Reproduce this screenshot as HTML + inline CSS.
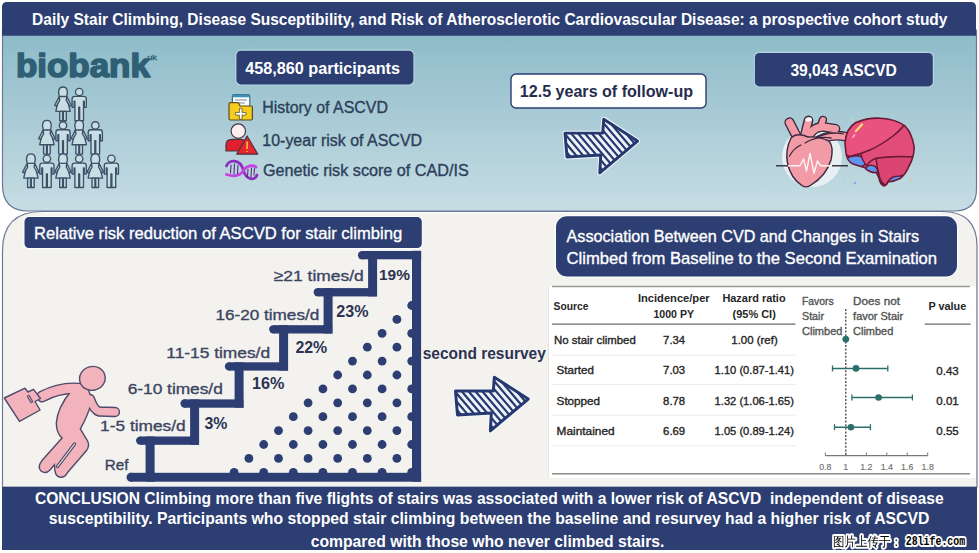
<!DOCTYPE html>
<html><head><meta charset="utf-8"><title>Daily Stair Climbing and ASCVD</title>
<style>
html,body{margin:0;padding:0;background:#fff;}
svg{display:block;font-family:'Liberation Sans', Arial, sans-serif;}
</style></head>
<body>
<svg width="979" height="553" viewBox="0 0 979 553">
<defs><linearGradient id="gTop" x1="0" y1="0" x2="0" y2="1"><stop offset="0" stop-color="#8cbac8"/><stop offset="1" stop-color="#c7dde4"/></linearGradient><clipPath id="arrowClip"><path d="M0,14 L38,14 L39,0 L73,22 L35,54 L36,36 L2,38 Z"/></clipPath></defs>
<rect x="0" y="0" width="979" height="553" fill="#ffffff"/>
<path d="M2.5,30 L976.5,30 L976.5,189 Q976.5,211 954.5,211 L28.5,211 Q2.5,211 2.5,185 Z" fill="url(#gTop)" stroke="#6c7898" stroke-width="1.2"/>
<path d="M2,7 Q2,2 7,2 L971,2 Q976,2 976,7 L976,35.7 L2,35.7 Z" fill="#2c3e72"/>
<path d="M2.5,487 L2.5,251 Q2.5,211.5 42,211.5 L942,211.5 Q977,211.5 977,246 L977,487 Z" fill="#f4f2ef" stroke="#6c7898" stroke-width="1.2"/>
<path d="M42,213 L942,213" stroke="#fbfcfd" stroke-width="1.6"/>
<rect x="2" y="487" width="975" height="63" fill="#2c3e72"/>
<text x="32.1" y="24.9" font-size="15.8" font-weight="bold" fill="#ffffff" textLength="915.4" lengthAdjust="spacingAndGlyphs">Daily Stair Climbing, Disease Susceptibility, and Risk of Atherosclerotic Cardiovascular Disease: a prospective cohort study</text>
<text x="15.9" y="77.2" font-size="33" font-weight="bold" fill="#2f5f74" textLength="134.0" lengthAdjust="spacingAndGlyphs" stroke="#2f5f74" stroke-width="1.6" stroke-linejoin="round">biobank</text>
<text x="147.2" y="60.0" font-size="8" fill="#2f5f74" textLength="9.7" lengthAdjust="spacingAndGlyphs" stroke="#2f5f74" stroke-width="0.35">uk</text>
<g fill="#c9dde5" stroke="#3b5166" stroke-width="1.35" stroke-linejoin="round">
<g transform="translate(63.0,86.7)"><path d="M-3.6,9.6 L3.6,9.6 L7.2,24.6 L-7.2,24.6 Z"/><path d="M-3.9,10.2 L-8.3,18.6 L-6.6,19.4 L-3.2,13.5 Z M3.9,10.2 L8.3,18.6 L6.6,19.4 L3.2,13.5 Z"/><path d="M-3.6,9.8 C-5.2,5 -4.6,0.3 0,0.3 C4.6,0.3 5.2,5 3.6,9.8 Z"/><path d="M-3.3,24.6 L-3.3,34 L-0.4,34 L-0.4,24.6 Z M0.4,24.6 L0.4,34 L3.3,34 L3.3,24.6 Z"/></g>
<g transform="translate(79.2,86.7)"><path d="M-4.6,9.6 L4.6,9.6 Q7.1,9.6 7.1,12.3 L7.1,20.6 L5.1,20.6 L5.1,14.5 L4.3,14.5 L4.3,34 L0.45,34 L0.45,20.5 L-0.45,20.5 L-0.45,34 L-4.3,34 L-4.3,14.5 L-5.1,14.5 L-5.1,20.6 L-7.1,20.6 L-7.1,12.3 Q-7.1,9.6 -4.6,9.6 Z"/><circle cx="0" cy="5.3" r="3.7"/></g>
<g transform="translate(46.9,120.1)"><path d="M-3.6,9.6 L3.6,9.6 L7.2,24.6 L-7.2,24.6 Z"/><path d="M-3.9,10.2 L-8.3,18.6 L-6.6,19.4 L-3.2,13.5 Z M3.9,10.2 L8.3,18.6 L6.6,19.4 L3.2,13.5 Z"/><path d="M-3.6,9.8 C-5.2,5 -4.6,0.3 0,0.3 C4.6,0.3 5.2,5 3.6,9.8 Z"/><path d="M-3.3,24.6 L-3.3,34 L-0.4,34 L-0.4,24.6 Z M0.4,24.6 L0.4,34 L3.3,34 L3.3,24.6 Z"/></g>
<g transform="translate(63.0,120.1)"><path d="M-4.6,9.6 L4.6,9.6 Q7.1,9.6 7.1,12.3 L7.1,20.6 L5.1,20.6 L5.1,14.5 L4.3,14.5 L4.3,34 L0.45,34 L0.45,20.5 L-0.45,20.5 L-0.45,34 L-4.3,34 L-4.3,14.5 L-5.1,14.5 L-5.1,20.6 L-7.1,20.6 L-7.1,12.3 Q-7.1,9.6 -4.6,9.6 Z"/><circle cx="0" cy="5.3" r="3.7"/></g>
<g transform="translate(79.2,120.1)"><path d="M-3.6,9.6 L3.6,9.6 L7.2,24.6 L-7.2,24.6 Z"/><path d="M-3.9,10.2 L-8.3,18.6 L-6.6,19.4 L-3.2,13.5 Z M3.9,10.2 L8.3,18.6 L6.6,19.4 L3.2,13.5 Z"/><path d="M-3.6,9.8 C-5.2,5 -4.6,0.3 0,0.3 C4.6,0.3 5.2,5 3.6,9.8 Z"/><path d="M-3.3,24.6 L-3.3,34 L-0.4,34 L-0.4,24.6 Z M0.4,24.6 L0.4,34 L3.3,34 L3.3,24.6 Z"/></g>
<g transform="translate(95.3,120.1)"><path d="M-4.6,9.6 L4.6,9.6 Q7.1,9.6 7.1,12.3 L7.1,20.6 L5.1,20.6 L5.1,14.5 L4.3,14.5 L4.3,34 L0.45,34 L0.45,20.5 L-0.45,20.5 L-0.45,34 L-4.3,34 L-4.3,14.5 L-5.1,14.5 L-5.1,20.6 L-7.1,20.6 L-7.1,12.3 Q-7.1,9.6 -4.6,9.6 Z"/><circle cx="0" cy="5.3" r="3.7"/></g>
<g transform="translate(30.9,153.5)"><path d="M-3.6,9.6 L3.6,9.6 L7.2,24.6 L-7.2,24.6 Z"/><path d="M-3.9,10.2 L-8.3,18.6 L-6.6,19.4 L-3.2,13.5 Z M3.9,10.2 L8.3,18.6 L6.6,19.4 L3.2,13.5 Z"/><path d="M-3.6,9.8 C-5.2,5 -4.6,0.3 0,0.3 C4.6,0.3 5.2,5 3.6,9.8 Z"/><path d="M-3.3,24.6 L-3.3,34 L-0.4,34 L-0.4,24.6 Z M0.4,24.6 L0.4,34 L3.3,34 L3.3,24.6 Z"/></g>
<g transform="translate(46.9,153.5)"><path d="M-4.6,9.6 L4.6,9.6 Q7.1,9.6 7.1,12.3 L7.1,20.6 L5.1,20.6 L5.1,14.5 L4.3,14.5 L4.3,34 L0.45,34 L0.45,20.5 L-0.45,20.5 L-0.45,34 L-4.3,34 L-4.3,14.5 L-5.1,14.5 L-5.1,20.6 L-7.1,20.6 L-7.1,12.3 Q-7.1,9.6 -4.6,9.6 Z"/><circle cx="0" cy="5.3" r="3.7"/></g>
<g transform="translate(63.0,153.5)"><path d="M-3.6,9.6 L3.6,9.6 L7.2,24.6 L-7.2,24.6 Z"/><path d="M-3.9,10.2 L-8.3,18.6 L-6.6,19.4 L-3.2,13.5 Z M3.9,10.2 L8.3,18.6 L6.6,19.4 L3.2,13.5 Z"/><path d="M-3.6,9.8 C-5.2,5 -4.6,0.3 0,0.3 C4.6,0.3 5.2,5 3.6,9.8 Z"/><path d="M-3.3,24.6 L-3.3,34 L-0.4,34 L-0.4,24.6 Z M0.4,24.6 L0.4,34 L3.3,34 L3.3,24.6 Z"/></g>
<g transform="translate(79.2,153.5)"><path d="M-4.6,9.6 L4.6,9.6 Q7.1,9.6 7.1,12.3 L7.1,20.6 L5.1,20.6 L5.1,14.5 L4.3,14.5 L4.3,34 L0.45,34 L0.45,20.5 L-0.45,20.5 L-0.45,34 L-4.3,34 L-4.3,14.5 L-5.1,14.5 L-5.1,20.6 L-7.1,20.6 L-7.1,12.3 Q-7.1,9.6 -4.6,9.6 Z"/><circle cx="0" cy="5.3" r="3.7"/></g>
<g transform="translate(95.3,153.5)"><path d="M-3.6,9.6 L3.6,9.6 L7.2,24.6 L-7.2,24.6 Z"/><path d="M-3.9,10.2 L-8.3,18.6 L-6.6,19.4 L-3.2,13.5 Z M3.9,10.2 L8.3,18.6 L6.6,19.4 L3.2,13.5 Z"/><path d="M-3.6,9.8 C-5.2,5 -4.6,0.3 0,0.3 C4.6,0.3 5.2,5 3.6,9.8 Z"/><path d="M-3.3,24.6 L-3.3,34 L-0.4,34 L-0.4,24.6 Z M0.4,24.6 L0.4,34 L3.3,34 L3.3,24.6 Z"/></g>
<g transform="translate(111.4,153.5)"><path d="M-4.6,9.6 L4.6,9.6 Q7.1,9.6 7.1,12.3 L7.1,20.6 L5.1,20.6 L5.1,14.5 L4.3,14.5 L4.3,34 L0.45,34 L0.45,20.5 L-0.45,20.5 L-0.45,34 L-4.3,34 L-4.3,14.5 L-5.1,14.5 L-5.1,20.6 L-7.1,20.6 L-7.1,12.3 Q-7.1,9.6 -4.6,9.6 Z"/><circle cx="0" cy="5.3" r="3.7"/></g>
</g>
<rect x="236.4" y="50.8" width="177" height="33.6" rx="4.5" fill="#2c3e72" stroke="#b9d6e0" stroke-width="2.4" paint-order="stroke"/>
<text x="245.3" y="74.1" font-size="16" font-weight="bold" fill="#ffffff" textLength="154.7" lengthAdjust="spacingAndGlyphs">458,860 participants</text>
<g stroke-linejoin="round"><rect x="232.4" y="94.7" width="17.4" height="12" rx="1.5" fill="#ffffff" stroke="#3d6f8a" stroke-width="1.2"/><rect x="232.4" y="94.7" width="17.4" height="2.6" fill="#3d8fb5"/><path d="M235,100 L247,100 M235,103 L245,103" stroke="#7a8a99" stroke-width="1"/><path d="M229,104 Q229,102.7 230.5,102.7 L237,102.7 Q239,102.7 239.5,104.5 L240,106 L251,106 Q252.4,106 252.4,107.5 L252.4,118.5 Q252.4,120 251,120 L230.5,120 Q229,120 229,118.5 Z" fill="#f5cd1f" stroke="#5b4a1e" stroke-width="1.2"/><path d="M240.7,109.5 L240.7,117.9 M236.5,113.7 L244.9,113.7" stroke="#5b4a1e" stroke-width="3.6" stroke-linecap="round"/><path d="M240.7,109.5 L240.7,117.9 M236.5,113.7 L244.9,113.7" stroke="#ffffff" stroke-width="2" stroke-linecap="round"/></g>
<g stroke="#4a3440" stroke-width="1.2" stroke-linejoin="round"><path d="M226,151 L226,145 Q226,139.3 232,139.3 L241,139.3 Q246,139.3 246,145 L246,151 Z" fill="#e0202e"/><circle cx="238.3" cy="131.1" r="7.2" fill="#fbeef0"/><path d="M247.1,136 L257.8,154.2 L236.7,154.2 Z" fill="#e52630"/><path d="M247.1,141.5 L247.1,149 M247.1,151 L247.1,152" stroke="#f5b030" stroke-width="1.8"/></g>
<g fill="none" stroke-linecap="round"><path d="M226.5,166 C228,160 240,157.5 243.5,170.5 C246,180 255,181 257,175" stroke="#8b2fc0" stroke-width="2.8"/><path d="M226.5,174.5 C234,177 240,176 243.5,170.5 C247,165 253,165 256,167" stroke="#c246de" stroke-width="2.8"/><path d="M231,165 L230.5,173 M234.5,164 L234,174 M238,165 L237.5,173.5 M248,169 L247.5,177 M251.5,168 L251,177 M254.5,168.5 L254,175" stroke="#5a2a80" stroke-width="1.1"/></g>
<text x="262.3" y="113.0" font-size="15.8" fill="#2c405a" textLength="125.6" lengthAdjust="spacingAndGlyphs" stroke="#2c405a" stroke-width="0.35">History of ASCVD</text>
<text x="262.3" y="145.6" font-size="15.8" fill="#2c405a" textLength="159.8" lengthAdjust="spacingAndGlyphs" stroke="#2c405a" stroke-width="0.35">10-year risk of ASCVD</text>
<text x="262.9" y="176.3" font-size="15.8" fill="#2c405a" textLength="205.9" lengthAdjust="spacingAndGlyphs" stroke="#2c405a" stroke-width="0.35">Genetic risk score of CAD/IS</text>
<rect x="511" y="74" width="195" height="34" rx="5" fill="#ffffff" stroke="#2c3e72" stroke-width="1.4"/>
<text x="519.8" y="97.0" font-size="15.8" font-weight="bold" fill="#262d4c" textLength="173.3" lengthAdjust="spacingAndGlyphs">12.5 years of follow-up</text>
<g transform="translate(565,119.2) scale(0.9931506849315068,0.9944444444444445)"><path d="M0,14 L38,14 L39,0 L73,22 L35,54 L36,36 L2,38 Z" fill="#eef3f9" stroke="#f4f8fb" stroke-width="5" stroke-linejoin="round"/><g clip-path="url(#arrowClip)" stroke="#263870" stroke-width="2.2"><line x1="-26.6" y1="0" x2="19.4" y2="54"/><line x1="-19.7" y1="0" x2="26.3" y2="54"/><line x1="-12.8" y1="0" x2="33.2" y2="54"/><line x1="-5.9" y1="0" x2="40.1" y2="54"/><line x1="1.0" y1="0" x2="47.0" y2="54"/><line x1="7.9" y1="0" x2="53.9" y2="54"/><line x1="14.8" y1="0" x2="60.8" y2="54"/><line x1="21.7" y1="0" x2="67.7" y2="54"/><line x1="28.6" y1="0" x2="74.6" y2="54"/><line x1="35.5" y1="0" x2="81.5" y2="54"/><line x1="42.4" y1="0" x2="88.4" y2="54"/><line x1="49.3" y1="0" x2="95.3" y2="54"/><line x1="56.2" y1="0" x2="102.2" y2="54"/><line x1="63.1" y1="0" x2="109.1" y2="54"/><line x1="70.0" y1="0" x2="116.0" y2="54"/><line x1="76.9" y1="0" x2="122.9" y2="54"/><line x1="83.8" y1="0" x2="129.8" y2="54"/><line x1="90.7" y1="0" x2="136.7" y2="54"/></g><path d="M0,14 L38,14 L39,0 L73,22 L35,54 L36,36 L2,38 Z" fill="none" stroke="#263870" stroke-width="3" stroke-linejoin="round"/></g>
<rect x="754.9" y="52.9" width="177.9" height="33.5" rx="4.5" fill="#2c3e72" stroke="#b9d6e0" stroke-width="2.4" paint-order="stroke"/>
<text x="790.4" y="76.1" font-size="16.8" font-weight="bold" fill="#ffffff" textLength="106.3" lengthAdjust="spacingAndGlyphs">39,043 ASCVD</text>
<circle cx="812" cy="157" r="30" fill="#e8eff3"/>
<g fill="none" stroke-linecap="round" stroke-linejoin="round"><path d="M799,141 L789.5,122.5" stroke="#3a2a40" stroke-width="10.3"/><path d="M804,138 L808.5,120.5" stroke="#3a2a40" stroke-width="9.8"/><path d="M806,141 Q812,126 824,127 L835.5,128.8" stroke="#3a2a40" stroke-width="9.8"/><path d="M820,128 L823,119.8" stroke="#3a2a40" stroke-width="8.3"/><path d="M813,144 Q828,133 845,136.5" stroke="#3a2a40" stroke-width="9.8"/><path d="M799,141 L789.5,122.5" stroke="#f29aa6" stroke-width="7.5"/><path d="M804,138 L808.5,120.5" stroke="#f29aa6" stroke-width="7"/><path d="M806,141 Q812,126 824,127 L835.5,128.8" stroke="#f29aa6" stroke-width="7"/><path d="M820,128 L823,119.8" stroke="#f29aa6" stroke-width="5.5"/><path d="M813,144 Q828,133 845,136.5" stroke="#f29aa6" stroke-width="7"/></g>
<path d="M814,139 Q828,131 844,134" fill="none" stroke="#3a2a40" stroke-width="1.2"/>
<path d="M791,138 Q785,150 787.5,163 Q790.5,178 802,185.5 Q806.5,188.5 811,185 Q826,176 831,160 Q834,147 829,141 Q818,136 808,137 Q797,132 791,138 Z" fill="#f29aa6" stroke="#3a2a40" stroke-width="1.4" stroke-linejoin="round"/>
<path d="M789.5,156 Q794,148 801,145 M805,143 Q817,135.5 831,138" fill="none" stroke="#3a2a40" stroke-width="1.3" stroke-linecap="round"/>
<ellipse cx="808.6" cy="119.6" rx="3.2" ry="2" fill="#ffffff"/>
<path d="M776,165.7 L788,165.7 M832,165.7 L848,165.7" stroke="#3a3a48" stroke-width="1.4"/>
<path d="M788,165.7 L800,165.7 L803.5,159 L806.5,171 L810,153.5 L814,173 L817.5,161 L820.5,165.7 L832,165.7" fill="none" stroke="#fff4f4" stroke-width="1.4" stroke-linejoin="round"/>
<clipPath id="bc"><path d="M845,143 Q846,128 856,122.5 Q868,117.5 880.3,118.2 Q896,119 905,126 Q912,133 914.2,147 Q914,158 909,166 Q906,174 900,178.5 Q894,181.5 888,182 Q886,186.5 883.5,185.8 Q880,184 879,178 L876.5,172.8 Q868,172.5 865,167.8 Q858,165.5 853,164 Q847,161.5 846,153 Z"/></clipPath>
<g clip-path="url(#bc)" stroke="#6a1a35" stroke-width="1.5" stroke-linejoin="round"><rect x="840" y="110" width="80" height="80" fill="#e9517f" stroke="none"/><ellipse cx="856" cy="161.5" rx="10.5" ry="5.8" fill="#5d95ee"/><ellipse cx="871" cy="170.5" rx="6.5" ry="5.2" fill="#5d95ee"/><ellipse cx="892" cy="179.8" rx="13.5" ry="5.2" fill="#5d95ee"/><path d="M876,158 Q893,156 916,156 L916,170 Q903,176.5 895,176.5 Q889,177.5 886,186 Q880,181 879,175 Q877,168 876,158 Z" fill="#db4573"/><path d="M860,150 Q880,130 916,118 L916,157 Q893,155.5 877,158 Q870,160 867,165.5 Q862,162 860,150 Z" fill="#e24c79"/><path d="M838,100 L907,100 L907,121 Q901,130 893,136 Q881,145 870,150 Q860,154.5 849,156.5 Q842,152 838,140 Z" fill="#e9517f"/></g>
<path d="M845,143 Q846,128 856,122.5 Q868,117.5 880.3,118.2 Q896,119 905,126 Q912,133 914.2,147 Q914,158 909,166 Q906,174 900,178.5 Q894,181.5 888,182 Q886,186.5 883.5,185.8 Q880,184 879,178 L876.5,172.8 Q868,172.5 865,167.8 Q858,165.5 853,164 Q847,161.5 846,153 Z" fill="none" stroke="#6a1a35" stroke-width="1.6" stroke-linejoin="round"/>
<path d="M856,131 L862,124.5" stroke="#f8dc70" stroke-width="2.4" stroke-linecap="round"/>
<path d="M853,137 L854.5,135" stroke="#f8b0c8" stroke-width="1.8" stroke-linecap="round"/>
<circle cx="855" cy="183" r="1.3" fill="#7fb0e8"/>
<circle cx="844" cy="182" r="1" fill="#9fd0f0"/>
<circle cx="911" cy="180" r="0.9" fill="#e8c080"/>
<circle cx="852" cy="120" r="0.9" fill="#e8e080"/>
<rect x="24.5" y="217.1" width="397.3" height="31" rx="4.5" fill="#2c3e72" stroke="#fbfcfe" stroke-width="2.2" paint-order="stroke"/>
<text x="34.0" y="238.6" font-size="16.4" fill="#ffffff" textLength="368.2" lengthAdjust="spacingAndGlyphs" stroke="#ffffff" stroke-width="0.35">Relative risk reduction of ASCVD for stair climbing</text>
<g fill="#2c3e72"><circle cx="234.1" cy="472.3" r="4.4"/><circle cx="263.7" cy="472.3" r="4.4"/><circle cx="293.3" cy="472.3" r="4.4"/><circle cx="322.9" cy="472.3" r="4.4"/><circle cx="352.5" cy="472.3" r="4.4"/><circle cx="382.1" cy="472.3" r="4.4"/><circle cx="411.7" cy="472.3" r="4.4"/><circle cx="248.9" cy="458.4" r="4.4"/><circle cx="278.5" cy="458.4" r="4.4"/><circle cx="308.1" cy="458.4" r="4.4"/><circle cx="337.7" cy="458.4" r="4.4"/><circle cx="367.3" cy="458.4" r="4.4"/><circle cx="396.9" cy="458.4" r="4.4"/><circle cx="263.7" cy="444.5" r="4.4"/><circle cx="293.3" cy="444.5" r="4.4"/><circle cx="322.9" cy="444.5" r="4.4"/><circle cx="352.5" cy="444.5" r="4.4"/><circle cx="382.1" cy="444.5" r="4.4"/><circle cx="411.7" cy="444.5" r="4.4"/><circle cx="278.5" cy="430.6" r="4.4"/><circle cx="308.1" cy="430.6" r="4.4"/><circle cx="337.7" cy="430.6" r="4.4"/><circle cx="367.3" cy="430.6" r="4.4"/><circle cx="396.9" cy="430.6" r="4.4"/><circle cx="293.3" cy="416.7" r="4.4"/><circle cx="322.9" cy="416.7" r="4.4"/><circle cx="352.5" cy="416.7" r="4.4"/><circle cx="382.1" cy="416.7" r="4.4"/><circle cx="411.7" cy="416.7" r="4.4"/><circle cx="308.1" cy="402.8" r="4.4"/><circle cx="337.7" cy="402.8" r="4.4"/><circle cx="367.3" cy="402.8" r="4.4"/><circle cx="396.9" cy="402.8" r="4.4"/><circle cx="322.9" cy="388.9" r="4.4"/><circle cx="352.5" cy="388.9" r="4.4"/><circle cx="382.1" cy="388.9" r="4.4"/><circle cx="411.7" cy="388.9" r="4.4"/><circle cx="337.7" cy="375.0" r="4.4"/><circle cx="367.3" cy="375.0" r="4.4"/><circle cx="396.9" cy="375.0" r="4.4"/><circle cx="352.5" cy="361.1" r="4.4"/><circle cx="382.1" cy="361.1" r="4.4"/><circle cx="411.7" cy="361.1" r="4.4"/><circle cx="367.3" cy="347.2" r="4.4"/><circle cx="396.9" cy="347.2" r="4.4"/><circle cx="382.1" cy="333.3" r="4.4"/><circle cx="411.7" cy="333.3" r="4.4"/><circle cx="396.9" cy="319.4" r="4.4"/><circle cx="411.7" cy="305.5" r="4.4"/></g>
<g fill="#2c3e72"><rect x="140.0" y="436.5" width="59.0" height="8.3"/><circle cx="140.2" cy="440.6" r="4.15"/><rect x="145.6" y="436.5" width="9" height="45.2"/><rect x="184.4" y="399.4" width="59.0" height="8.3"/><circle cx="184.6" cy="403.5" r="4.15"/><rect x="190.1" y="399.4" width="9" height="45.4"/><rect x="228.8" y="362.3" width="59.0" height="8.3"/><circle cx="229.0" cy="366.4" r="4.15"/><rect x="234.6" y="362.3" width="9" height="45.4"/><rect x="273.2" y="325.2" width="59.0" height="8.3"/><circle cx="273.3" cy="329.3" r="4.15"/><rect x="279.1" y="325.2" width="9" height="45.4"/><rect x="317.6" y="288.1" width="59.0" height="8.3"/><circle cx="317.8" cy="292.2" r="4.15"/><rect x="323.6" y="288.1" width="9" height="45.4"/><rect x="362.0" y="251.0" width="59.1" height="8.3"/><circle cx="362.1" cy="255.2" r="4.15"/><rect x="368.1" y="251.0" width="9" height="45.4"/><rect x="130.5" y="472.8" width="290.6" height="8.9"/><circle cx="131" cy="477.25" r="4.45"/><rect x="412" y="250.8" width="9.1" height="230.9"/></g>
<text x="104.7" y="469.8" font-size="15.3" fill="#3b4562" textLength="23.7" lengthAdjust="spacingAndGlyphs" stroke="#3b4562" stroke-width="0.35">Ref</text>
<text x="100.1" y="431.4" font-size="15.5" fill="#3b4562" textLength="85.5" lengthAdjust="spacingAndGlyphs" stroke="#3b4562" stroke-width="0.35">1-5 times/d</text>
<text x="127.7" y="393.8" font-size="15.5" fill="#3b4562" textLength="95.1" lengthAdjust="spacingAndGlyphs" stroke="#3b4562" stroke-width="0.35">6-10 times/d</text>
<text x="166.3" y="358.0" font-size="15.5" fill="#3b4562" textLength="103.8" lengthAdjust="spacingAndGlyphs" stroke="#3b4562" stroke-width="0.35">11-15 times/d</text>
<text x="215.4" y="320.4" font-size="15.5" fill="#3b4562" textLength="103.9" lengthAdjust="spacingAndGlyphs" stroke="#3b4562" stroke-width="0.35">16-20 times/d</text>
<text x="273.7" y="280.9" font-size="15.5" fill="#3b4562" textLength="90.1" lengthAdjust="spacingAndGlyphs" stroke="#3b4562" stroke-width="0.35">≥21 times/d</text>
<text x="204.5" y="429.3" font-size="15.6" font-weight="bold" fill="#2a3352" textLength="22.9" lengthAdjust="spacingAndGlyphs">3%</text>
<text x="252.1" y="389.2" font-size="16.2" font-weight="bold" fill="#2a3352" textLength="32.4" lengthAdjust="spacingAndGlyphs">16%</text>
<text x="295.4" y="353.4" font-size="16.6" font-weight="bold" fill="#2a3352" textLength="31.9" lengthAdjust="spacingAndGlyphs">22%</text>
<text x="336.3" y="316.6" font-size="16.6" font-weight="bold" fill="#2a3352" textLength="32.2" lengthAdjust="spacingAndGlyphs">23%</text>
<text x="379.0" y="279.6" font-size="15.2" font-weight="bold" fill="#2a3352" textLength="30.9" lengthAdjust="spacingAndGlyphs">19%</text>
<g stroke-linecap="round" stroke-linejoin="round">
<path d="M72,391 Q58,408 57,423 Q57,433 63,438 L42.5,461 Q38,467 41.5,470.5 Q45.5,473.5 49.5,469.5 L55,463 L55.5,470 Q56.5,477 61.5,476.5 Q65,476 67,472 L86,450 Q89.5,445 86.5,440.5 L79.5,429 Q88,414 91,401 L88,390 Z" fill="#4f4a6a" stroke="#4f4a6a" stroke-width="2.8"/>
<path d="M83,389 Q62,386 42,396.5" fill="none" stroke="#4f4a6a" stroke-width="11.8"/>
<path d="M90,399 Q94,410 99,411.5 L115,412" fill="none" stroke="#4f4a6a" stroke-width="10.3"/>
<path d="M72,391 Q58,408 57,423 Q57,433 63,438 L42.5,461 Q38,467 41.5,470.5 Q45.5,473.5 49.5,469.5 L55,463 L55.5,470 Q56.5,477 61.5,476.5 Q65,476 67,472 L86,450 Q89.5,445 86.5,440.5 L79.5,429 Q88,414 91,401 L88,390 Z" fill="#f2b3bc"/>
<path d="M83,389 Q62,386 42,396.5" fill="none" stroke="#f2b3bc" stroke-width="9"/>
<path d="M90,399 Q94,410 99,411.5 L115,412" fill="none" stroke="#f2b3bc" stroke-width="7.5"/>
<path d="M74.5,444 L57.5,466.5" fill="none" stroke="#4f4a6a" stroke-width="3.4"/>
<path d="M74.5,444 L57.5,466.5" fill="none" stroke="#f6eef0" stroke-width="1.1"/>
</g>
<ellipse cx="92.4" cy="378.4" rx="12.9" ry="11.9" transform="rotate(-15 92.4 378.4)" fill="#f2b3bc" stroke="#4f4a6a" stroke-width="1.4"/>
<path d="M4.3,398 L25,388.2 L28,392 L33.5,389.3 L40.5,398.5 L35,401.5 L40.1,410 L19.5,421.4 Z" fill="#f2b3bc" stroke="#4f4a6a" stroke-width="1.4" stroke-linejoin="round"/>
<path d="M28.5,396.5 L31.5,401.5" stroke="#4f4a6a" stroke-width="3.2" stroke-linecap="round"/>
<path d="M28.5,396.5 L31.5,401.5" stroke="#f2b3bc" stroke-width="1" stroke-linecap="round"/>
<text x="422.7" y="358.6" font-size="17" font-weight="bold" fill="#2a3352" textLength="123.1" lengthAdjust="spacingAndGlyphs">second resurvey</text>
<g transform="translate(455.5,377.2) scale(0.9958904109589042,0.9925925925925926)"><path d="M0,14 L38,14 L39,0 L73,22 L35,54 L36,36 L2,38 Z" fill="#eef3f9" stroke="#f4f8fb" stroke-width="5" stroke-linejoin="round"/><g clip-path="url(#arrowClip)" stroke="#263870" stroke-width="2.2"><line x1="-26.6" y1="0" x2="19.4" y2="54"/><line x1="-19.7" y1="0" x2="26.3" y2="54"/><line x1="-12.8" y1="0" x2="33.2" y2="54"/><line x1="-5.9" y1="0" x2="40.1" y2="54"/><line x1="1.0" y1="0" x2="47.0" y2="54"/><line x1="7.9" y1="0" x2="53.9" y2="54"/><line x1="14.8" y1="0" x2="60.8" y2="54"/><line x1="21.7" y1="0" x2="67.7" y2="54"/><line x1="28.6" y1="0" x2="74.6" y2="54"/><line x1="35.5" y1="0" x2="81.5" y2="54"/><line x1="42.4" y1="0" x2="88.4" y2="54"/><line x1="49.3" y1="0" x2="95.3" y2="54"/><line x1="56.2" y1="0" x2="102.2" y2="54"/><line x1="63.1" y1="0" x2="109.1" y2="54"/><line x1="70.0" y1="0" x2="116.0" y2="54"/><line x1="76.9" y1="0" x2="122.9" y2="54"/><line x1="83.8" y1="0" x2="129.8" y2="54"/><line x1="90.7" y1="0" x2="136.7" y2="54"/></g><path d="M0,14 L38,14 L39,0 L73,22 L35,54 L36,36 L2,38 Z" fill="none" stroke="#263870" stroke-width="3" stroke-linejoin="round"/></g>
<rect x="556" y="216.3" width="401" height="60.1" rx="11" fill="#2c3e72" stroke="#fbfcfe" stroke-width="2.6" paint-order="stroke"/>
<text x="566.5" y="241.6" font-size="16.4" fill="#ffffff" textLength="352.6" lengthAdjust="spacingAndGlyphs" stroke="#ffffff" stroke-width="0.35">Association Between CVD and Changes in Stairs</text>
<text x="566.5" y="263.5" font-size="16.4" fill="#ffffff" textLength="370.6" lengthAdjust="spacingAndGlyphs" stroke="#ffffff" stroke-width="0.35">Climbed from Baseline to the Second Examination</text>
<rect x="548" y="286" width="428" height="192" fill="#ffffff"/>
<line x1="548.5" y1="286" x2="548.5" y2="478" stroke="#e4e4e4" stroke-width="1"/>
<line x1="552" y1="286.5" x2="970" y2="286.5" stroke="#9a9a9a" stroke-width="1.6"/>
<line x1="552" y1="324.2" x2="795.5" y2="324.2" stroke="#6a6a6a" stroke-width="1.2"/>
<line x1="924.6" y1="324.2" x2="970.6" y2="324.2" stroke="#6a6a6a" stroke-width="1.2"/>
<line x1="552" y1="355.2" x2="796" y2="355.2" stroke="#ececec" stroke-width="1"/>
<line x1="552" y1="384.5" x2="796" y2="384.5" stroke="#ececec" stroke-width="1"/>
<line x1="552" y1="415.2" x2="796" y2="415.2" stroke="#ececec" stroke-width="1"/>
<line x1="552" y1="445.8" x2="796" y2="445.8" stroke="#ececec" stroke-width="1"/>
<line x1="552" y1="473.8" x2="970" y2="473.8" stroke="#8a8a8a" stroke-width="1.6"/>
<text x="553.6" y="309.7" font-size="11.2" font-weight="bold" fill="#262626" textLength="34.8" lengthAdjust="spacingAndGlyphs">Source</text>
<text x="637.9" y="301.5" font-size="11.2" font-weight="bold" fill="#262626" textLength="71.8" lengthAdjust="spacingAndGlyphs">Incidence/per</text>
<text x="653.5" y="318.1" font-size="11.2" font-weight="bold" fill="#262626" textLength="40.5" lengthAdjust="spacingAndGlyphs">1000 PY</text>
<text x="722.4" y="301.5" font-size="11.2" font-weight="bold" fill="#262626" textLength="63.2" lengthAdjust="spacingAndGlyphs">Hazard ratio</text>
<text x="732.6" y="318.1" font-size="11.2" font-weight="bold" fill="#262626" textLength="43.2" lengthAdjust="spacingAndGlyphs">(95% CI)</text>
<text x="554.1" y="343.6" font-size="10.8" fill="#262626" textLength="81.7" lengthAdjust="spacingAndGlyphs" stroke="#262626" stroke-width="0.35">No stair climbed</text>
<text x="663.1" y="343.6" font-size="10.8" fill="#262626" textLength="22.0" lengthAdjust="spacingAndGlyphs" stroke="#262626" stroke-width="0.35">7.34</text>
<text x="731.3" y="343.6" font-size="10.8" fill="#262626" textLength="46.4" lengthAdjust="spacingAndGlyphs" stroke="#262626" stroke-width="0.35">1.00 (ref)</text>
<text x="556.6" y="374.4" font-size="10.8" fill="#262626" textLength="37.3" lengthAdjust="spacingAndGlyphs" stroke="#262626" stroke-width="0.35">Started</text>
<text x="663.1" y="374.4" font-size="10.8" fill="#262626" textLength="22.0" lengthAdjust="spacingAndGlyphs" stroke="#262626" stroke-width="0.35">7.03</text>
<text x="714.6" y="374.4" font-size="10.8" fill="#262626" textLength="79.3" lengthAdjust="spacingAndGlyphs" stroke="#262626" stroke-width="0.35">1.10 (0.87-1.41)</text>
<text x="556.6" y="404.6" font-size="10.8" fill="#262626" textLength="43.5" lengthAdjust="spacingAndGlyphs" stroke="#262626" stroke-width="0.35">Stopped</text>
<text x="663.1" y="404.6" font-size="10.8" fill="#262626" textLength="22.0" lengthAdjust="spacingAndGlyphs" stroke="#262626" stroke-width="0.35">8.78</text>
<text x="714.6" y="404.6" font-size="10.8" fill="#262626" textLength="79.3" lengthAdjust="spacingAndGlyphs" stroke="#262626" stroke-width="0.35">1.32 (1.06-1.65)</text>
<text x="556.6" y="435.0" font-size="10.8" fill="#262626" textLength="58.0" lengthAdjust="spacingAndGlyphs" stroke="#262626" stroke-width="0.35">Maintained</text>
<text x="663.1" y="435.0" font-size="10.8" fill="#262626" textLength="22.0" lengthAdjust="spacingAndGlyphs" stroke="#262626" stroke-width="0.35">6.69</text>
<text x="714.6" y="435.0" font-size="10.8" fill="#262626" textLength="79.3" lengthAdjust="spacingAndGlyphs" stroke="#262626" stroke-width="0.35">1.05 (0.89-1.24)</text>
<text x="802.0" y="304.9" font-size="10.3" fill="#555555" textLength="31.7" lengthAdjust="spacingAndGlyphs" stroke="#555555" stroke-width="0.35">Favors</text>
<text x="802.0" y="319.9" font-size="10.3" fill="#555555" textLength="22.0" lengthAdjust="spacingAndGlyphs" stroke="#555555" stroke-width="0.35">Stair</text>
<text x="802.0" y="334.6" font-size="10.3" fill="#555555" textLength="40.4" lengthAdjust="spacingAndGlyphs" stroke="#555555" stroke-width="0.35">Climbed</text>
<text x="853.1" y="304.9" font-size="10.3" fill="#555555" textLength="46.8" lengthAdjust="spacingAndGlyphs" stroke="#555555" stroke-width="0.35">Does  not</text>
<text x="853.1" y="319.9" font-size="10.3" fill="#555555" textLength="50.0" lengthAdjust="spacingAndGlyphs" stroke="#555555" stroke-width="0.35">favor Stair</text>
<text x="853.1" y="334.6" font-size="10.3" fill="#555555" textLength="40.2" lengthAdjust="spacingAndGlyphs" stroke="#555555" stroke-width="0.35">Climbed</text>
<text x="928.4" y="309.8" font-size="11.2" font-weight="bold" fill="#262626" textLength="37.8" lengthAdjust="spacingAndGlyphs">P value</text>
<line x1="845.8" y1="309" x2="845.8" y2="456" stroke="#333" stroke-width="1.2" stroke-dasharray="2,1.6"/>
<line x1="825.3" y1="455.6" x2="927.7" y2="455.6" stroke="#777" stroke-width="1.2"/>
<line x1="825.3" y1="452.5" x2="825.3" y2="455.6" stroke="#777" stroke-width="1"/>
<line x1="845.8" y1="452.5" x2="845.8" y2="455.6" stroke="#777" stroke-width="1"/>
<line x1="866.3" y1="452.5" x2="866.3" y2="455.6" stroke="#777" stroke-width="1"/>
<line x1="886.8" y1="452.5" x2="886.8" y2="455.6" stroke="#777" stroke-width="1"/>
<line x1="907.2" y1="452.5" x2="907.2" y2="455.6" stroke="#777" stroke-width="1"/>
<line x1="927.7" y1="452.5" x2="927.7" y2="455.6" stroke="#777" stroke-width="1"/>
<text x="825.3" y="469.8" font-size="8.8" fill="#707070" text-anchor="middle" stroke="#707070" stroke-width="0.15">0.8</text>
<text x="845.8" y="469.8" font-size="8.8" fill="#707070" text-anchor="middle" stroke="#707070" stroke-width="0.15">1</text>
<text x="866.3" y="469.8" font-size="8.8" fill="#707070" text-anchor="middle" stroke="#707070" stroke-width="0.15">1.2</text>
<text x="886.8" y="469.8" font-size="8.8" fill="#707070" text-anchor="middle" stroke="#707070" stroke-width="0.15">1.4</text>
<text x="907.2" y="469.8" font-size="8.8" fill="#707070" text-anchor="middle" stroke="#707070" stroke-width="0.15">1.6</text>
<text x="927.7" y="469.8" font-size="8.8" fill="#707070" text-anchor="middle" stroke="#707070" stroke-width="0.15">1.8</text>
<g stroke="#2b6f6d" fill="#2b6f6d">
<circle cx="845.8" cy="339.2" r="3"/>
<line x1="832.5" y1="368.4" x2="887.8" y2="368.4" stroke-width="1.5"/>
<line x1="832.5" y1="365.4" x2="832.5" y2="371.4" stroke-width="1.3"/>
<line x1="887.8" y1="365.4" x2="887.8" y2="371.4" stroke-width="1.3"/>
<circle cx="856.0" cy="368.4" r="3.3" stroke="none"/>
<line x1="851.9" y1="397.5" x2="912.4" y2="397.5" stroke-width="1.5"/>
<line x1="851.9" y1="394.5" x2="851.9" y2="400.5" stroke-width="1.3"/>
<line x1="912.4" y1="394.5" x2="912.4" y2="400.5" stroke-width="1.3"/>
<circle cx="878.6" cy="397.5" r="3.3" stroke="none"/>
<line x1="834.5" y1="427.2" x2="870.4" y2="427.2" stroke-width="1.5"/>
<line x1="834.5" y1="424.2" x2="834.5" y2="430.2" stroke-width="1.3"/>
<line x1="870.4" y1="424.2" x2="870.4" y2="430.2" stroke-width="1.3"/>
<circle cx="850.9" cy="427.2" r="3.3" stroke="none"/>
</g>
<text x="936.3" y="374.5" font-size="10.8" fill="#262626" textLength="22.5" lengthAdjust="spacingAndGlyphs" stroke="#262626" stroke-width="0.35">0.43</text>
<text x="936.3" y="404.7" font-size="10.8" fill="#262626" textLength="22.5" lengthAdjust="spacingAndGlyphs" stroke="#262626" stroke-width="0.35">0.01</text>
<text x="936.3" y="435.1" font-size="10.8" fill="#262626" textLength="22.5" lengthAdjust="spacingAndGlyphs" stroke="#262626" stroke-width="0.35">0.55</text>
<text x="34.9" y="503.8" font-size="16.3" font-weight="bold" fill="#ffffff" textLength="908.7" lengthAdjust="spacingAndGlyphs" xml:space="preserve">CONCLUSION Climbing more than five flights of stairs was associated with a lower risk of ASCVD  independent of disease</text>
<text x="48.8" y="524.2" font-size="16.3" font-weight="bold" fill="#ffffff" textLength="880.5" lengthAdjust="spacingAndGlyphs">susceptibility. Participants who stopped stair climbing between the baseline and resurvey had a higher risk of ASCVD</text>
<text x="310.7" y="546.7" font-size="16.3" font-weight="bold" fill="#ffffff" textLength="353.7" lengthAdjust="spacingAndGlyphs">compared with those who never climbed stairs.</text>
<text x="833" y="545.5" font-size="13" font-weight="bold" fill="#000" stroke="#fff" stroke-width="4" paint-order="stroke" stroke-linejoin="round" font-family="'WenQuanYi Zen Hei', 'Noto Sans CJK SC', sans-serif" textLength="69" lengthAdjust="spacingAndGlyphs">图片上传于：</text>
<text x="905.7" y="545" font-size="12.5" font-weight="bold" fill="#000" stroke="#fff" stroke-width="4" paint-order="stroke" stroke-linejoin="round" font-family="'Liberation Mono', monospace" textLength="59.5" lengthAdjust="spacingAndGlyphs">28life.com</text>
</svg>
</body></html>
